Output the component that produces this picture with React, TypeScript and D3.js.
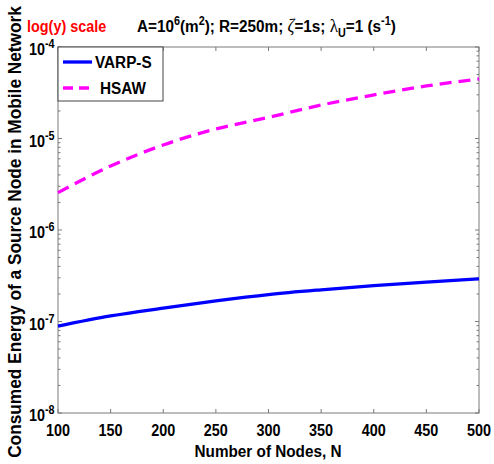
import React from "react";
import * as d3 from "d3";

const nodes = [100, 150, 200, 250, 300, 350, 400, 450, 500];
const varpS = [0.89e-7, 1.15e-7, 1.4e-7, 1.68e-7, 1.97e-7, 2.22e-7, 2.46e-7, 2.7e-7, 2.92e-7];
const hsaw = [2.56e-6, 5.0e-6, 8.5e-6, 1.27e-5, 1.7e-5, 2.32e-5, 2.99e-5, 3.75e-5, 4.47e-5];
const xTicks = [100, 150, 200, 250, 300, 350, 400, 450, 500];
const yDecades = [-8, -7, -6, -5, -4];
const seriesNames = ["VARP-S", "HSAW"];

const W = 494, H = 464;
const L = 58, R = 479, T = 47, B = 413;
const SX = 0.9;
const FONT = "'Liberation Sans', Arial, sans-serif";
const AX = "#7a7a7a";

function Txt({ x, y, anchor = "start", size = 17, fill = "#000", rotate = 0, sx = SX, children }: any) {
  const tr = `translate(${x},${y})${rotate ? ` rotate(${rotate})` : ""} scale(${sx},1)`;
  return (
    <text transform={tr} textAnchor={anchor} fontSize={size} fontWeight="bold" fontFamily={FONT} fill={fill}>
      {children}
    </text>
  );
}

export default function App() {
  const x = d3.scaleLinear().domain([100, 500]).range([L, R]);
  const y = d3.scaleLog().domain([1e-8, 1e-4]).range([B, T]);
  const line = d3
    .line<[number, number]>()
    .x((d) => x(d[0]))
    .y((d) => y(d[1]))
    .curve(d3.curveMonotoneX);
  const dVarp = line(nodes.map((n, i) => [n, varpS[i]]))!;
  const dHsaw = line(nodes.map((n, i) => [n, hsaw[i]]))!;

  const minor: number[] = [];
  for (let e = -8; e < -4; e++) for (let k = 2; k <= 9; k++) minor.push(k * Math.pow(10, e));

  return (
    <svg width={W} height={H} style={{ position: "absolute", left: 0, top: 0, background: "#fff" }}>
      <rect x={0} y={0} width={W} height={H} fill="#fff" />
      <rect x={L} y={T} width={R - L} height={B - T} fill="none" stroke={AX} strokeWidth={1} />
      {xTicks.map((t) => (
        <g key={"xt" + t}>
          <line x1={x(t)} x2={x(t)} y1={B} y2={B - 4} stroke={AX} />
          <line x1={x(t)} x2={x(t)} y1={T} y2={T + 4} stroke={AX} />
          <Txt x={x(t)} y={436} anchor="middle" size={16}>{t}</Txt>
        </g>
      ))}
      {yDecades.map((e) => {
        const yy = y(Math.pow(10, e));
        return (
          <g key={"yd" + e}>
            <line x1={L} x2={L + 4} y1={yy} y2={yy} stroke={AX} />
            <line x1={R} x2={R - 4} y1={yy} y2={yy} stroke={AX} />
            <Txt x={45} y={yy + 8} anchor="end" size={16}>10</Txt>
            <Txt x={45} y={yy + 1} anchor="start" size={12}>{String(e)}</Txt>
          </g>
        );
      })}
      {minor.map((v, i) => (
        <g key={"mn" + i}>
          <line x1={L} x2={L + 2.5} y1={y(v)} y2={y(v)} stroke={AX} />
          <line x1={R} x2={R - 2.5} y1={y(v)} y2={y(v)} stroke={AX} />
        </g>
      ))}
      <path d={dVarp} fill="none" stroke="#0000ff" strokeWidth={3.3} />
      <path d={dHsaw} fill="none" stroke="#ff00ff" strokeWidth={3.3} strokeDasharray="12 7" />
      <rect x={L} y={T} width={105} height={54} fill="#fff" stroke="#444" strokeWidth={1} />
      <line x1={63} x2={92} y1={62} y2={62} stroke="#0000ff" strokeWidth={3.3} />
      <Txt x={95} y={68} size={17}>{seriesNames[0]}</Txt>
      <line x1={63} x2={92} y1={88} y2={88} stroke="#ff00ff" strokeWidth={3.3} strokeDasharray="10 6" />
      <Txt x={100} y={94} size={17}>{seriesNames[1]}</Txt>
      <Txt x={268} y={457} anchor="middle" size={17}>Number of Nodes, N</Txt>
      <Txt x={21} y={232} anchor="middle" size={18} sx={0.96} rotate={-90}>Consumed Energy of a Source Node in Mobile Network</Txt>
      <Txt x={27} y={32} size={16} fill="#ff0000">log(y) scale</Txt>
      <text transform={`translate(137,32) scale(${SX},1)`} fontSize={17} fontWeight="bold" fontFamily={FONT} fill="#000">
        <tspan>A=10</tspan>
        <tspan fontSize={12} dy={-7}>6</tspan>
        <tspan dy={7}>(m</tspan>
        <tspan fontSize={12} dy={-7}>2</tspan>
        <tspan dy={7}>); R=250m; </tspan>
        <tspan fontFamily="'Liberation Serif', serif" fontStyle="italic" fontWeight="normal" fontSize={19}>ζ</tspan>
        <tspan>=1s; </tspan>
        <tspan fontFamily="'Liberation Serif', serif" fontWeight="normal" fontSize={19}>λ</tspan>
        <tspan fontSize={12} dy={5}>U</tspan>
        <tspan dy={-5}>=1 (s</tspan>
        <tspan fontSize={12} dy={-7}>-1</tspan>
        <tspan dy={7}>)</tspan>
      </text>
    </svg>
  );
}
